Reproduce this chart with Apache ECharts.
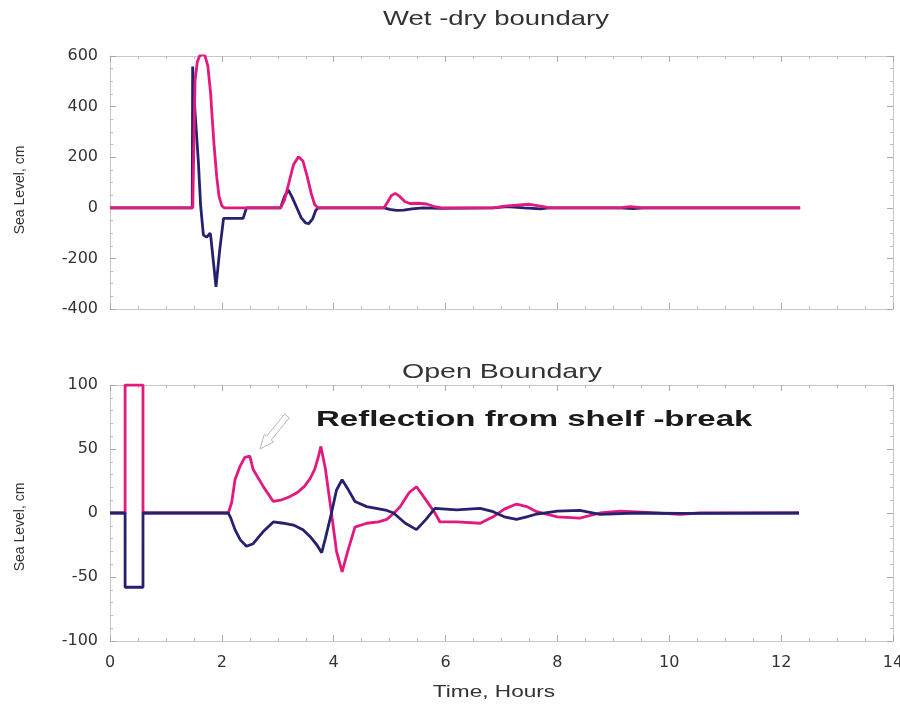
<!DOCTYPE html>
<html>
<head>
<meta charset="utf-8">
<title>Wet-dry and open boundary</title>
<script src="https://cdn.jsdelivr.net/npm/echarts@6/dist/echarts.min.js"></script>
<style>
    html, body { margin: 0; padding: 0; background: #fff; }
    #chart { width: 900px; height: 704px; }
</style>
</head>
<body>
<div id="chart"></div>
<script>
    // 时间(小时), 水位(cm) —— 近似值
    var wetDryPink = [
        [0, 0], [1.48, 0], [1.50, 250], [1.52, 500], [1.56, 575], [1.60, 600], [1.657, 608], [1.70, 600],
        [1.75, 560], [1.80, 450], [1.82, 380], [1.86, 250], [1.91, 118], [1.95, 45], [2.00, 8], [2.04, 0],
        [3.05, 0], [3.12, 30], [3.20, 100], [3.28, 170], [3.37, 202], [3.45, 185], [3.53, 120], [3.60, 55],
        [3.66, 12], [3.72, 0], [4.90, 0], [4.97, 25], [5.03, 48], [5.10, 57], [5.18, 45], [5.27, 25],
        [5.36, 17], [5.50, 18], [5.66, 15], [5.80, 5], [5.93, 0], [6.85, 0], [7.10, 8], [7.50, 14],
        [7.75, 5], [7.85, 0], [9.10, 0], [9.30, 5], [9.55, 0], [12.34, 0]
    ];
    var wetDryNavy = [
        [0, 0], [1.47, 0], [1.478, 558], [1.52, 380], [1.58, 182], [1.62, 10], [1.67, -108], [1.73, -116],
        [1.76, -112], [1.79, -100], [1.80, -110], [1.895, -312], [1.96, -170], [2.03, -42], [2.38, -42],
        [2.44, 0], [3.05, 0], [3.12, 45], [3.19, 70], [3.26, 40], [3.34, 0], [3.42, -40], [3.50, -60],
        [3.55, -63], [3.62, -45], [3.68, -10], [3.72, 0], [4.90, 0], [5.00, -6], [5.12, -10], [5.25, -9],
        [5.40, -4], [5.60, 0], [5.90, -2], [5.93, 0], [6.85, 0], [7.10, 5], [7.40, 0], [7.70, -4],
        [7.85, 0], [9.10, 0], [9.35, -3], [9.55, 0], [12.34, 0]
    ];
    var openPink = [
        [0, 0], [0.27, 0], [0.27, 100], [0.59, 100], [0.59, 0], [2.115, 0], [2.175, 8], [2.235, 26],
        [2.32, 36], [2.41, 43.5], [2.50, 44.5], [2.56, 34], [2.75, 20], [2.92, 9], [3.05, 10], [3.20, 12.5],
        [3.35, 16], [3.48, 21], [3.58, 27], [3.66, 34], [3.72, 43], [3.77, 52], [3.85, 35], [3.96, 0],
        [4.05, -30], [4.15, -46], [4.25, -30], [4.38, -11], [4.59, -8], [4.80, -7], [4.95, -5], [5.08, 0],
        [5.19, 5], [5.35, 16], [5.48, 20.5], [5.62, 12], [5.81, 0], [5.90, -7], [6.20, -7], [6.62, -8],
        [6.85, -3], [7.05, 3], [7.27, 7], [7.45, 5], [7.63, 1], [8.00, -3], [8.40, -4], [8.76, 0],
        [9.12, 1.5], [9.60, 0.5], [10.19, -1], [10.55, 0], [12.32, 0]
    ];
    var openNavy = [
        [0, 0], [0.27, 0], [0.27, -58], [0.59, -58], [0.59, 0], [2.115, 0], [2.16, -4], [2.235, -13],
        [2.33, -21], [2.44, -26], [2.56, -24], [2.75, -14], [2.92, -7], [3.10, -8], [3.28, -9.4],
        [3.45, -13], [3.58, -18.5], [3.70, -25], [3.785, -31], [3.85, -20], [3.96, 0], [4.05, 18],
        [4.15, 26], [4.25, 19], [4.38, 9], [4.59, 5], [4.95, 2], [5.07, 0], [5.28, -8], [5.48, -13],
        [5.65, -5], [5.81, 3.6], [6.20, 2.5], [6.62, 3.6], [6.85, 1], [7.05, -3], [7.27, -5], [7.45, -3],
        [7.63, -0.8], [8.00, 1.5], [8.40, 2], [8.76, -1], [9.40, 0], [10.19, -0.3], [12.32, 0]
    ];

    var pink = '#e2197f'
    var navy = '#25216f'
    var frameColor = '#c8c8c8'
    var textColor = '#333'
    var font = 'Liberation Sans, Arial, Helvetica, sans-serif'

    // 生成一根带内向刻度的坐标轴
    function makeAxis(type, grid, pos, min, max, interval, minorSplit, showLabel) {
        return {
            type: 'value',
            gridIndex: grid,
            position: pos,
            min: min,
            max: max,
            interval: interval,
            axisLine: { show: true, onZero: false, lineStyle: { color: frameColor, width: 1 } },
            axisTick: { show: true, inside: true, length: 6, lineStyle: { color: '#aaa' } },
            minorTick: { show: true, splitNumber: minorSplit, length: 3, lineStyle: { color: '#bbb' } },
            splitLine: { show: false },
            axisLabel: {
                show: showLabel,
                color: textColor,
                fontFamily: 'DejaVu Sans',
                fontSize: 16,
                margin: type === 'x' ? 14 : 12
            }
        }
    }

    // 横向拉伸的文字（原图文字偏宽）
    function stretchedText(text, x, y, size, scaleX, align, weight, rot) {
        return {
            type: 'text', x: x, y: y, scaleX: scaleX, rotation: rot || 0,
            style: {
                text: text,
                font: (weight || 'normal') + ' ' + size + 'px ' + font,
                fill: weight ? '#1a1a1a' : textColor,
                textAlign: align,
                textVerticalAlign: 'middle'
            }
        }
    }

    var myChart = echarts.init(document.getElementById('chart'))
    myChart.setOption({
        animation: false,
        grid: [
            { left: 110, right: 7, top: 56, height: 253, outerBoundsMode: 'none' },
            { left: 110, right: 7, top: 385, height: 256, outerBoundsMode: 'none' }
        ],
        xAxis: [
            makeAxis('x', 0, 'bottom', 0, 14, 2, 4, false),
            makeAxis('x', 0, 'top', 0, 14, 2, 4, false),
            makeAxis('x', 1, 'bottom', 0, 14, 2, 4, true),
            makeAxis('x', 1, 'top', 0, 14, 2, 4, false)
        ],
        yAxis: [
            makeAxis('y', 0, 'left', -400, 600, 200, 4, true),
            makeAxis('y', 0, 'right', -400, 600, 200, 4, false),
            makeAxis('y', 1, 'left', -100, 100, 50, 5, true),
            makeAxis('y', 1, 'right', -100, 100, 50, 5, false)
        ],
        graphic: [
            stretchedText('Wet -dry boundary', 496, 19, 21, 1.31, 'center'),
            stretchedText('Open Boundary', 502, 372, 21, 1.36, 'center'),
            stretchedText('Reflection from shelf -break', 316, 420, 22, 1.5, 'left', 'bold'),
            stretchedText('Time, Hours', 494, 692, 17, 1.33, 'center'),
            stretchedText('Sea Level, cm', 20, 190, 14, 1, 'center', null, Math.PI / 2),
            stretchedText('Sea Level, cm', 20, 527, 14, 1, 'center', null, Math.PI / 2),
            // 空心箭头
            {
                type: 'polygon',
                shape: { points: [[289.3, 417.9], [271.2, 440.05], [273.6, 441.95], [260, 449], [264.25, 434.35], [266.6, 436.25], [284.7, 414.1]] },
                style: { fill: '#fff', stroke: '#b5b5b5', lineWidth: 1 }
            }
        ],
        series: [
            { name: 'wd-navy', type: 'line', xAxisIndex: 0, yAxisIndex: 0, data: wetDryNavy, showSymbol: false, lineStyle: { color: navy, width: 2.8 }, z: 2 },
            { name: 'wd-pink', type: 'line', xAxisIndex: 0, yAxisIndex: 0, data: wetDryPink, showSymbol: false, lineStyle: { color: pink, width: 2.8 }, z: 3 },
            { name: 'ob-pink', type: 'line', xAxisIndex: 2, yAxisIndex: 2, data: openPink, showSymbol: false, lineStyle: { color: pink, width: 2.8 }, z: 2 },
            { name: 'ob-navy', type: 'line', xAxisIndex: 2, yAxisIndex: 2, data: openNavy, showSymbol: false, lineStyle: { color: navy, width: 2.8 }, z: 3 }
        ]
    })
</script>
</body>
</html>
